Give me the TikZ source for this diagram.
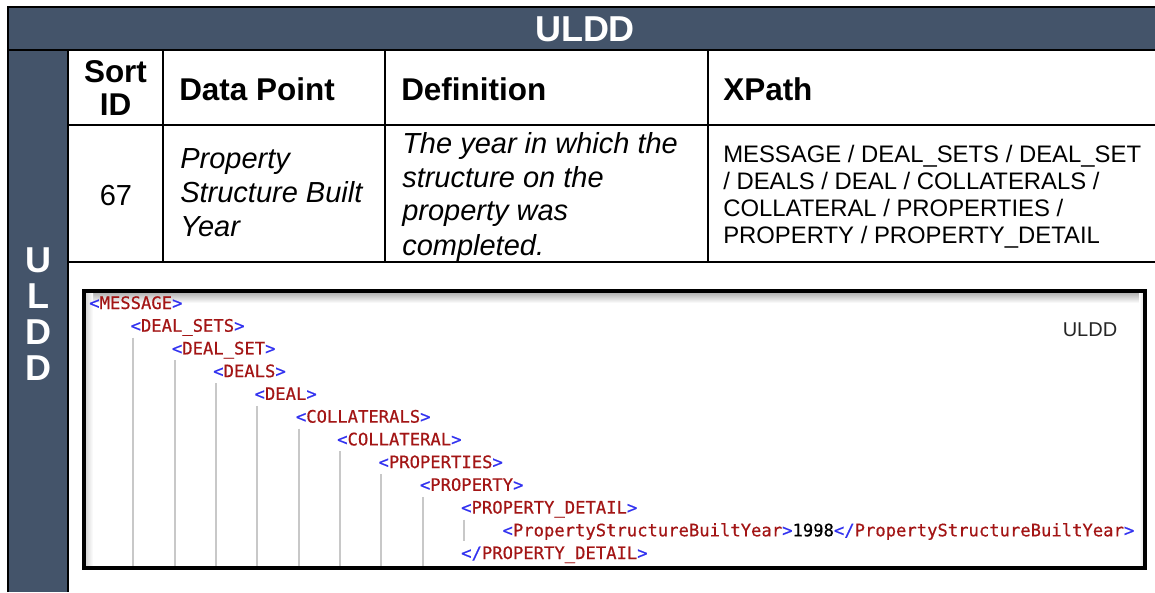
\documentclass[tikz,border=0pt]{standalone}
\usepackage{fontspec}
\setmainfont{Liberation Sans}
\newfontfamily\codefont[FakeBold=0.5]{DejaVu Sans Mono}
\usepackage{tikz}
\usetikzlibrary{positioning,calc}
\definecolor{slate}{HTML}{44546A}
\definecolor{tagblue}{RGB}{50,50,240}
\definecolor{tagred}{HTML}{A31515}
\definecolor{guidegray}{RGB}{200,200,200}
\newcommand{\opentag}[1]{\textcolor{tagblue}{<}\textcolor{tagred}{#1}\textcolor{tagblue}{>}}
\newcommand{\closetag}[1]{\textcolor{tagblue}{</}\textcolor{tagred}{#1}\textcolor{tagblue}{>}}
\tikzstyle{bar}=[%
      fill=slate, draw=none
]
\tikzstyle{rule}=[%
      draw=black, line width=1.6pt
]
\tikzstyle{hd}=[%
      inner sep=0pt, anchor=west, align=left,
      font=\fontsize{23.6pt}{24.75pt}\selectfont\bfseries
]
\tikzstyle{txt}=[%
      inner sep=0pt, anchor=west, align=left,
      font=\fontsize{21.75pt}{25.5pt}\selectfont\itshape
]
\tikzstyle{xp}=[%
      inner sep=0pt, anchor=west, align=left,
      font=\fontsize{17.9pt}{20.25pt}\selectfont
]
\tikzstyle{code}=[%
      inner sep=0pt, anchor=base west,
      font=\codefont\fontsize{12.9pt}{15pt}\selectfont
]
\tikzstyle{guide}=[%
      draw=guidegray, line width=1.5pt
]

\begin{document}
\begin{tikzpicture}[x=0.75pt, y=-0.75pt]
    \useasboundingbox (0,0) rectangle (1155,592);

    \fill[bar] (8,7) rectangle (1155,50);
    \fill[bar] (8,50) rectangle (68,592);
    \draw[rule] (8,592) -- (8,7) -- (1155,7);
    \draw[rule] (8,50) -- (1155,50);
    \draw[rule] (68,50) -- (68,592);
    \draw[rule] (68,125) -- (1155,125);
    \draw[rule] (68,262) -- (1155,262);
    \foreach \x in {163,385,708}
        \draw[rule] (\x,50) -- (\x,262);

    \node[inner sep=0pt, text=white, font=\fontsize{27pt}{27pt}\selectfont\bfseries]
        (title) at (585,29) {ULDD};
    \node[inner sep=0pt, text=white, align=center, font=\fontsize{27pt}{27pt}\selectfont\bfseries]
        (side) at (38,314) {U\\L\\D\\D};

    \node[hd, anchor=center, align=center] (sortid) at (115.5,88.5) {Sort\\ID};
    \node[hd] (datapoint) at (179,89) {Data Point};
    \node[hd] (definition) at (401,89) {Definition};
    \node[hd] (xpath) at (723,89) {XPath};

    \node[txt, anchor=center, font=\fontsize{21.75pt}{25.5pt}\selectfont] (id) at (116,196) {67};
    \node[txt] (name) at (180,192.5) {Property\\Structure Built\\Year};
    \node[txt] (meaning) at (402,196.5) {The year in which the\\structure on the\\property was\\completed.};
    \node[xp] (path) at (723,197) {MESSAGE / DEAL\_SETS / DEAL\_SET\\/ DEALS / DEAL / COLLATERALS /\\COLLATERAL / PROPERTIES /\\PROPERTY / PROPERTY\_DETAIL};

    % screenshot
    \coordinate (shotnw) at (84,291);
    \coordinate (shotse) at (1145,568);
    \fill[white] (shotnw) rectangle (shotse);
    \shade[top color=black!35, bottom color=white] (84,291) rectangle (1145,303);
    \shade[left color=black!20, right color=white] (84,291) rectangle (93,568);
    \shade[left color=white, right color=black!15] (1139,291) rectangle (1145,568);

    \foreach \lvl/\txt [count=\i from 0] in {%
        0/{\opentag{MESSAGE}},
        1/{\opentag{DEAL\_SETS}},
        2/{\opentag{DEAL\_SET}},
        3/{\opentag{DEALS}},
        4/{\opentag{DEAL}},
        5/{\opentag{COLLATERALS}},
        6/{\opentag{COLLATERAL}},
        7/{\opentag{PROPERTIES}},
        8/{\opentag{PROPERTY}},
        9/{\opentag{PROPERTY\_DETAIL}},
        10/{\opentag{PropertyStructureBuiltYear}1998\closetag{PropertyStructureBuiltYear}},
        9/{\closetag{PROPERTY\_DETAIL}}}
        \node[code] (c\i) at (89+41.33*\lvl, 309+22.73*\i) {\txt};

    \foreach \i in {1,...,8} {
        \coordinate (g\i) at ($(c\i.base west)+(3,6)$);
        \draw[guide] (g\i) -- (g\i |- shotse);
    }
    \draw[guide] ($(c9.base west)+(3,6)$) -- ($(c11.base west)+(3,-18)$);

    \node[inner sep=0pt, text=black!85, font=\fontsize{15pt}{15pt}\selectfont]
        (tag) at (1090,330) {ULDD};

    \draw[draw=black, line width=2.6pt] (shotnw) rectangle (shotse);
\end{tikzpicture}
\end{document}
